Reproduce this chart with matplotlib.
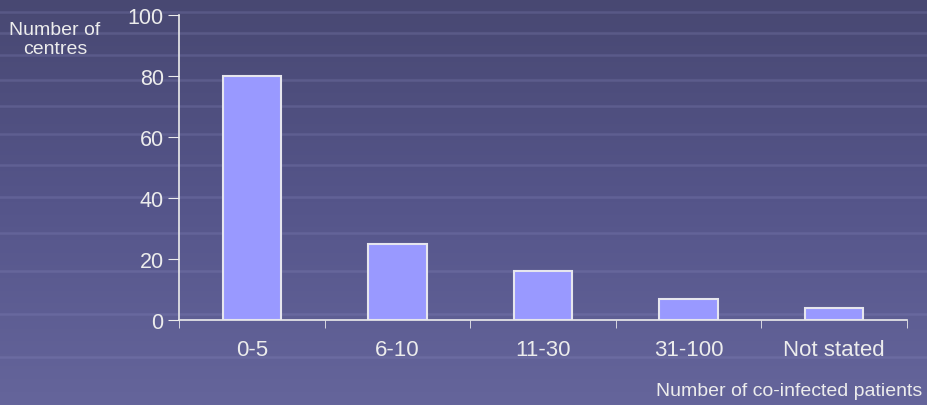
import matplotlib
matplotlib.use("Agg")
import matplotlib.pyplot as plt
import numpy as np
from matplotlib.colors import LinearSegmentedColormap

categories = ["0-5", "6-10", "11-30", "31-100", "Not stated"]
centres = [80, 25, 16, 7, 4]
y_ticks = [0, 20, 40, 60, 80, 100]

plt.rcParams['font.family'] = ['Liberation Sans', 'DejaVu Sans']
txt = '#ececec'

W, H = 927, 406
fig = plt.figure(figsize=(W / 100, H / 100), dpi=100)

# background gradient with faint texture lines (decorative template)
bg = fig.add_axes([0, 0, 1, 1], zorder=0)
grad = np.linspace(0, 1, 256).reshape(-1, 1)
cmap = LinearSegmentedColormap.from_list('bg', ['#484872', '#55558a', '#65659b'])
bg.imshow(grad, aspect='auto', cmap=cmap, extent=[0, W, H, 0], origin='upper')
bg.set_xlim(0, W); bg.set_ylim(H, 0)
texture_rows = [13, 34, 56, 81, 107, 135, 166, 198, 234, 272, 315, 358]
for yy in texture_rows:
    bg.axhline(yy, color='#8a8ac0', alpha=0.25, linewidth=1.8)
bg.axis('off')

ax = fig.add_axes([179 / W, 1 - 321 / H, (907 - 179) / W, (321 - 16) / H], zorder=1)
ax.patch.set_alpha(0)
x = np.arange(len(categories))
ax.bar(x, centres, width=0.4, color='#9999ff', edgecolor='#e6e6ee', linewidth=1.5, zorder=3)
ax.set_xlim(-0.5, len(categories) - 0.5)
ax.set_ylim(0, 100)
ax.set_yticks(y_ticks)
ax.set_yticklabels([str(t) for t in y_ticks], fontsize=15.5, color=txt)
ax.set_xticks(x)
ax.set_xticklabels(categories, fontsize=16, color=txt)
ax.tick_params(axis='x', length=0, pad=14)
ax.set_xticks(np.arange(-0.5, len(categories)), minor=True)
ax.tick_params(axis='x', which='minor', length=6, color=txt, direction='out')
ax.tick_params(axis='y', length=8, color=txt, direction='out', pad=3)
for s in ['top', 'right']:
    ax.spines[s].set_visible(False)
for s in ['left', 'bottom']:
    ax.spines[s].set_color(txt)
    ax.spines[s].set_linewidth(1.2)

fig.text(55 / W, 1 - 40 / H, "Number of\ncentres", ha='center', va='center',
         fontsize=14, color=txt, linespacing=1.15)
fig.text(922 / W, 1 - 392 / H, "Number of co-infected patients", ha='right', va='center',
         fontsize=14, color=txt)

fig.savefig("out.png", dpi=100)
